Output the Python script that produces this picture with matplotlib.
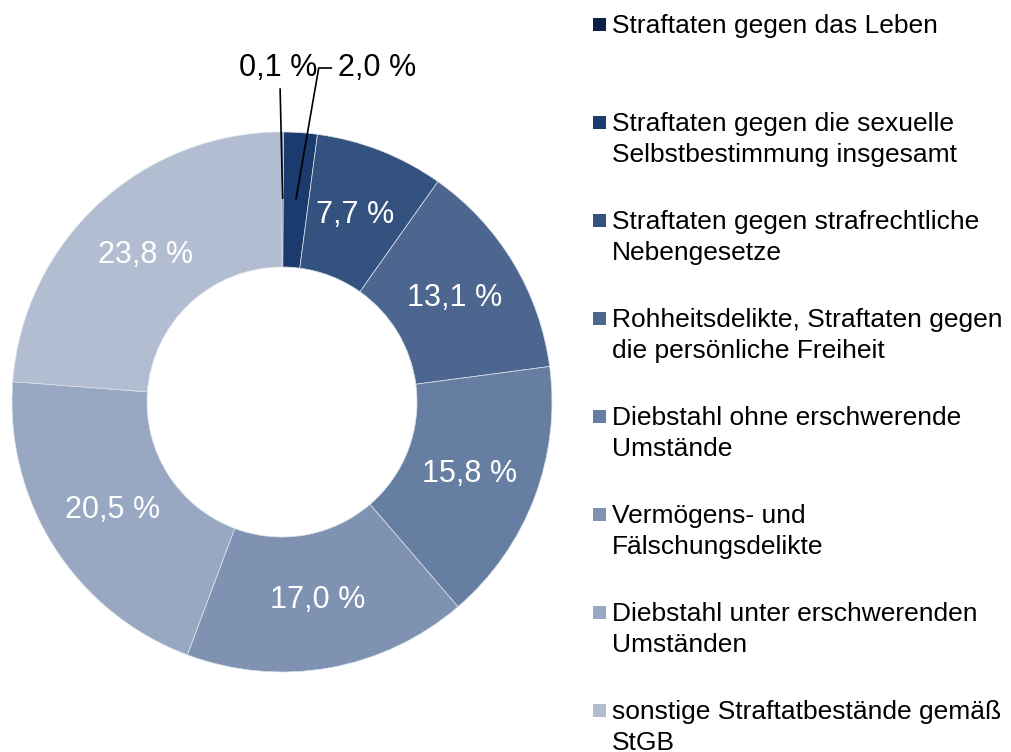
import numpy as np
import matplotlib
matplotlib.use("Agg")
import matplotlib.pyplot as plt
from matplotlib.patches import Rectangle

plt.rcParams['font.family'] = ['Liberation Sans', 'DejaVu Sans']

categories = [
    "Straftaten gegen das Leben",
    "Straftaten gegen die sexuelle\nSelbstbestimmung insgesamt",
    "Straftaten gegen strafrechtliche\nNebengesetze",
    "Rohheitsdelikte, Straftaten gegen\ndie persönliche Freiheit",
    "Diebstahl ohne erschwerende\nUmstände",
    "Vermögens- und\nFälschungsdelikte",
    "Diebstahl unter erschwerenden\nUmständen",
    "sonstige Straftatbestände gemäß\nStGB",
]
values = [0.1, 2.0, 7.7, 13.1, 15.8, 17.0, 20.5, 23.8]
colors = ["#0e1f45", "#1b3a6e", "#34527f", "#4d6690",
          "#677ea3", "#8092b1", "#98a8c2", "#b2bdd1"]

W, H = 1012, 752
fig = plt.figure(figsize=(W / 100, H / 100), dpi=100)

cx, cy, R = 282, 402, 270
ax = fig.add_axes([(cx - R) / W, (H - cy - R) / H, 2 * R / W, 2 * R / H])
wedges, _ = ax.pie(values, colors=colors, startangle=90, counterclock=False,
                   radius=1.0, wedgeprops=dict(width=0.5, edgecolor="#dde3ec", linewidth=0.5))
ax.set_xlim(-1, 1)
ax.set_ylim(-1, 1)
ax.set_aspect("equal")
ax.axis("off")

fmt = lambda v: f"{v:.1f}".replace(".", ",") + " %"
label_r = 0.745
fs_lab = 22
for i, (w, v) in enumerate(zip(wedges, values)):
    mid = np.deg2rad((w.theta1 + w.theta2) / 2)
    x, y = label_r * np.cos(mid), label_r * np.sin(mid)
    if v >= 5:
        ax.text(x, y, fmt(v), ha="center", va="center", color="white", fontsize=fs_lab)
    else:
        px, py = 0.755 * np.cos(mid), 0.755 * np.sin(mid)
        if i == 0:
            ax.plot([px, -0.007], [py, 1.159], color="black", lw=1.2, clip_on=False)
            ax.text(-0.015, 1.237, fmt(v), ha="center", va="center", color="black",
                    fontsize=fs_lab, clip_on=False)
        else:
            ax.plot([px, 0.136, 0.183], [py, 1.237, 1.237], color="black", lw=1.2, clip_on=False)
            ax.text(0.207, 1.237, fmt(v), ha="left", va="center", color="black",
                    fontsize=fs_lab, clip_on=False)

# legend, drawn manually
fs_leg = 19
cap = 0.716 * fs_leg * 100 / 72
y0, step, lstep = 24, 98, 31
for k, (lab, col) in enumerate(zip(categories, colors)):
    yy = y0 + k * step
    fig.patches.append(Rectangle((593 / W, (H - yy - 6.5) / H), 13 / W, 13 / H,
                                 transform=fig.transFigure, facecolor=col, edgecolor="none"))
    for j, line in enumerate(lab.split("\n")):
        fig.text(612 / W, (H - (yy + cap / 2 + j * lstep)) / H, line, ha="left",
                 va="baseline", fontsize=fs_leg, color="black", transform=fig.transFigure)

fig.savefig("out.png", dpi=100)
